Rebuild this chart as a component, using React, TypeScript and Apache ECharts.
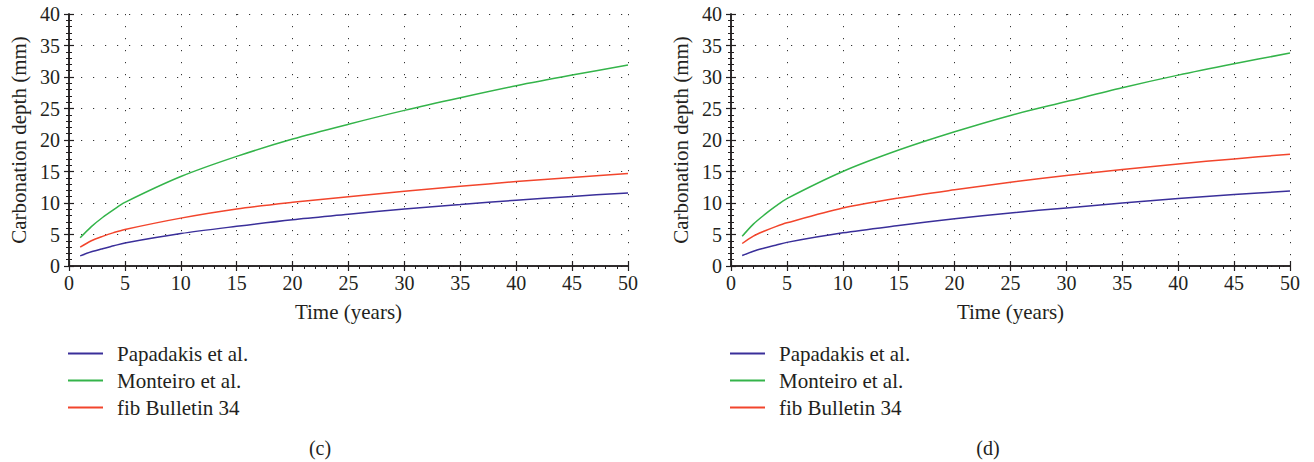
import React, { useEffect, useRef } from "react";
import * as echarts from "echarts";

const years = [1, 2, 3, 4, 5, 10, 15, 20, 25, 30, 35, 40, 45, 50];

const seriesNames = ["Papadakis et al.", "Monteiro et al.", "fib Bulletin 34"];
const seriesColors = ["#3a2f9a", "#34b44a", "#f2452c"];

// Panel (c)
const papadakisC = [1.6, 2.25, 2.75, 3.2, 3.65, 5.15, 6.3, 7.35, 8.2, 9.05, 9.75, 10.45, 11.05, 11.6];
const monteiroC = [4.47, 6.25, 7.7, 8.95, 10.1, 14.2, 17.4, 20.15, 22.5, 24.7, 26.7, 28.6, 30.3, 31.9];
const fibC = [3.0, 4.0, 4.7, 5.3, 5.8, 7.6, 9.05, 10.1, 11.0, 11.85, 12.65, 13.4, 14.05, 14.7];

// Panel (d)
const papadakisD = [1.66, 2.35, 2.85, 3.3, 3.75, 5.26, 6.42, 7.5, 8.43, 9.22, 10.0, 10.7, 11.33, 11.9];
const monteiroD = [4.72, 6.65, 8.15, 9.5, 10.7, 15.0, 18.4, 21.3, 23.9, 26.1, 28.3, 30.3, 32.1, 33.8];
const fibD = [3.57, 4.75, 5.55, 6.25, 6.85, 9.2, 10.8, 12.1, 13.3, 14.35, 15.3, 16.2, 17.0, 17.75];

const panelLabels = ["(c)", "(d)"];
const xName = "Time (years)";
const yName = "Carbonation depth (mm)";

const FONT = "'Liberation Serif', 'DejaVu Serif', serif";
const TEXT = "#231f20";
const AXIS = "#231f20";

export default function App() {
  const ref = useRef<HTMLDivElement>(null);

  useEffect(() => {
    if (!ref.current) return;
    const chart = echarts.init(ref.current, undefined, { renderer: "svg" });

    const panels = [
      [papadakisC, monteiroC, fibC],
      [papadakisD, monteiroD, fibD],
    ];
    const gridLefts = [69, 731];
    const labelX = [320, 988];

    const grid: any[] = [];
    const xAxis: any[] = [];
    const yAxis: any[] = [];
    const series: any[] = [];
    const legend: any[] = [];
    const graphic: any[] = [];

    panels.forEach((panel, g) => {
      grid.push({ left: gridLefts[g], top: 14, width: 559, height: 252, containLabel: false });
      const axisLine = { show: true, lineStyle: { color: AXIS, width: 1.5 } };
      const dotted = { show: true, lineStyle: { color: "#333", width: 1, type: [1.2, 10.8] } };
      xAxis.push({
        type: "value",
        gridIndex: g,
        min: 0,
        max: 50,
        interval: 5,
        position: "bottom",
        name: xName,
        nameLocation: "middle",
        nameGap: 35,
        nameTextStyle: { fontFamily: FONT, fontSize: 21, color: TEXT },
        axisLine,
        axisTick: { show: true, inside: true, length: 5, lineStyle: { color: AXIS, width: 1.2 } },
        axisLabel: { fontFamily: FONT, fontSize: 20, color: TEXT, margin: 7 },
        splitLine: dotted,
      });
      xAxis.push({
        type: "value",
        gridIndex: g,
        min: 0,
        max: 50,
        interval: 5,
        position: "top",
        axisLine,
        axisTick: { show: true, inside: true, length: 5, lineStyle: { color: AXIS, width: 1.2 } },
        minorTick: { show: true, splitNumber: 5, length: 3, lineStyle: { color: AXIS, width: 1 } },
        axisLabel: { show: false },
        splitLine: { show: false },
      });
      yAxis.push({
        type: "value",
        gridIndex: g,
        min: 0,
        max: 40,
        interval: 5,
        position: "left",
        name: yName,
        nameLocation: "middle",
        nameGap: 40,
        nameTextStyle: { fontFamily: FONT, fontSize: 21, color: TEXT },
        axisLine,
        axisTick: { show: true, inside: true, length: 5, lineStyle: { color: AXIS, width: 1.2 } },
        minorTick: { show: true, splitNumber: 5, length: 3, lineStyle: { color: AXIS, width: 1 } },
        axisLabel: { fontFamily: FONT, fontSize: 20, color: TEXT, margin: 9 },
        splitLine: dotted,
      });
      yAxis.push({
        type: "value",
        gridIndex: g,
        min: 0,
        max: 40,
        interval: 5,
        position: "right",
        axisLine,
        axisTick: { show: true, inside: true, length: 5, lineStyle: { color: AXIS, width: 1.2 } },
        minorTick: { show: true, splitNumber: 5, length: 3, lineStyle: { color: AXIS, width: 1 } },
        axisLabel: { show: false },
        splitLine: { show: false },
      });

      panel.forEach((vals, i) => {
        series.push({
          type: "line",
          name: seriesNames[i],
          xAxisIndex: g * 2,
          yAxisIndex: g * 2,
          data: years.map((t, k) => [t, vals[k]]),
          smooth: 0.3,
          showSymbol: false,
          symbol: "none",
          color: seriesColors[i],
          lineStyle: { color: seriesColors[i], width: 1.5 },
          z: 3,
        });
      });

      legend.push({
        orient: "vertical",
        left: gridLefts[g] - 1,
        top: 343,
        padding: 0,
        icon: "rect",
        itemWidth: 35,
        itemHeight: 2,
        itemGap: 6,
        selectedMode: false,
        data: seriesNames,
        textStyle: { fontFamily: FONT, fontSize: 21, color: TEXT, lineHeight: 21, padding: [0, 0, 0, 9] },
      });

      graphic.push({
        type: "text",
        x: labelX[g],
        y: 448,
        style: {
          text: panelLabels[g],
          textAlign: "center",
          textVerticalAlign: "middle",
          font: `20px ${FONT}`,
          fill: TEXT,
        },
      });
    });

    chart.setOption({
      animation: false,
      backgroundColor: "#ffffff",
      grid,
      xAxis,
      yAxis,
      series,
      legend,
      graphic,
    });

    return () => chart.dispose();
  }, []);

  return (
    <div
      ref={ref}
      style={{ position: "fixed", left: 0, top: 0, width: 1314, height: 462 }}
    />
  );
}
